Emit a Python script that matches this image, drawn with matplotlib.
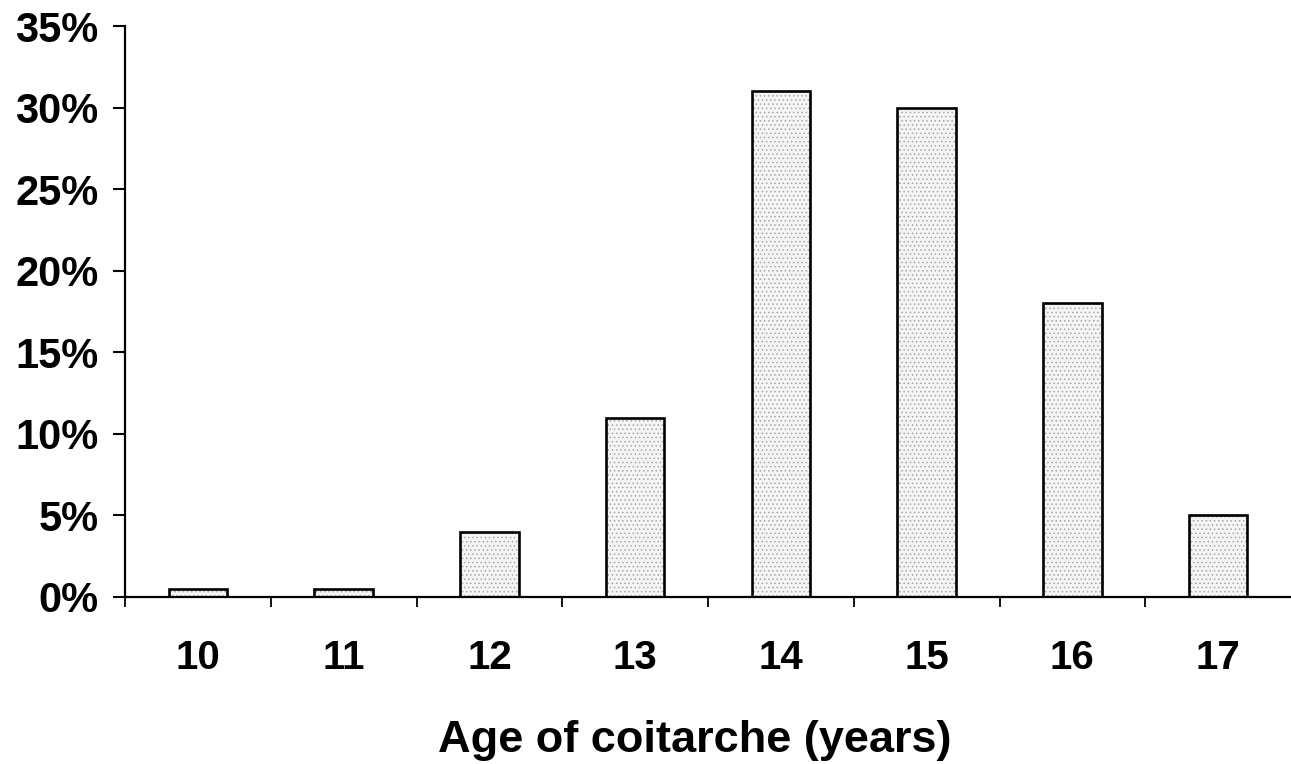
import numpy as np
import matplotlib
matplotlib.use('Agg')
import matplotlib.pyplot as plt
from matplotlib.ticker import FuncFormatter

# данные
ages = ['10', '11', '12', '13', '14', '15', '16', '17']
share = [0.5, 0.5, 4, 11, 31, 30, 18, 5]
y_ticks = [0, 5, 10, 15, 20, 25, 30, 35]

plt.rcParams['font.family'] = ['Liberation Sans', 'DejaVu Sans']
plt.rcParams['font.weight'] = 'bold'
plt.rcParams['hatch.linewidth'] = 0.6

fig = plt.figure(figsize=(12.91, 7.64), dpi=100)
ax = fig.add_axes([125/1291, 1 - 597/764, 1166/1291, 571/764])

x = np.arange(len(ages))
# точечная заливка
ax.bar(x, share, width=0.4, color='#f4f4f4', hatch='....',
       edgecolor='#a8a8a8', linewidth=0, zorder=2)
# контур
ax.bar(x, share, width=0.4, fill=False, edgecolor='black',
       linewidth=1.9, zorder=3)

ax.set_xlim(-0.5, len(ages) - 0.5)
ax.set_ylim(0, 35)
ax.set_yticks(y_ticks)
ax.yaxis.set_major_formatter(FuncFormatter(lambda v, p: '{:d}%'.format(int(v))))
ax.set_xticks(x)
ax.set_xticklabels(ages)
ax.set_xticks(np.arange(len(ages)) - 0.5, minor=True)

ax.tick_params(axis='y', length=9, width=1.5, labelsize=30, pad=10)
ax.tick_params(axis='x', which='major', length=0, labelsize=29, pad=30)
ax.tick_params(axis='x', which='minor', length=7, width=1.3, direction='out')

for s in ['top', 'right']:
    ax.spines[s].set_visible(False)
for s in ['left', 'bottom']:
    ax.spines[s].set_linewidth(1.6)
ax.spines['left'].set_bounds(0, 35)

ax.set_xlabel('Age of coitarche (years)', fontsize=32.5, fontweight='bold')
ax.xaxis.set_label_coords(0.489, -0.215)

fig.savefig('out.png', dpi=100)
